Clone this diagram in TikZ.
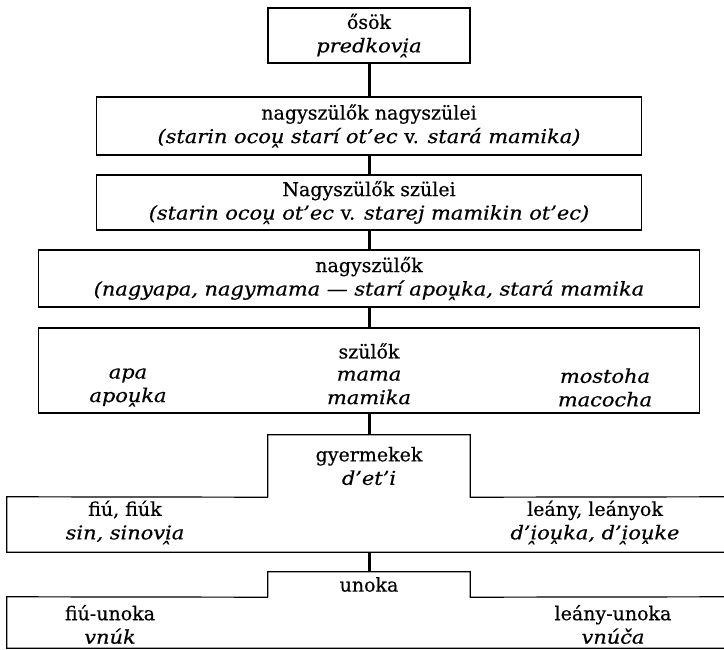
\documentclass[tikz,border=0pt]{standalone}
\usepackage{fontspec}
\setmainfont{DejaVu Serif}[UprightFeatures={FakeBold=0.5}, ItalicFeatures={FakeStretch=1.1, FakeBold=0.5}]
\newcommand\hb[1]{#1^^^^032d}
\tikzset{
  txt/.style={align=center, inner sep=0pt, font=\fontsize{19}{23.5}\selectfont},
  ital/.style={txt, font=\fontsize{19}{23.5}\selectfont\itshape},
  frame/.style={line width=1.2pt},
  box/.style={txt, draw, frame},
  bar/.style={line width=3pt}
}

\begin{document}
\begin{tikzpicture}[x=1pt, y=-1pt]
\useasboundingbox (0,0) rectangle (724,650);
% generations, top to bottom
\node [box, minimum width=202pt, minimum height=55pt] (b1) at (369,35.5) {ősök\\\textit{predkov\hb{i}a}};
\node [box, minimum width=545pt, minimum height=58pt] (b2) at (369,126) {nagyszülők nagyszülei\\\textit{(starin oco\hb{u} starí ot’ec \textup{v.} stará mamika)}};
\node [box, minimum width=545pt, minimum height=55pt] (b3) at (369,202.5) {Nagyszülők szülei\\\textit{(starin oco\hb{u} ot’ec \textup{v.} starej mamikin ot’ec)}};
\node [box, minimum width=661pt, minimum height=57pt] (b4) at (369,278.5) {nagyszülők\\\textit{(nagyapa, nagymama — starí apo\hb{u}ka, stará mamika}};
\node [box, minimum width=661pt, minimum height=85pt] (b5) at (369,370.5) {};
\node [txt] (b5t) at (369,351) {szülők};
\node [ital] (apa) at (128,387.5) {apa\\apo\hb{u}ka};
\node [ital] (mama) at (369,387.5) {mama\\mamika};
\node [ital] (mostoha) at (605,387.5) {mostoha\\macocha};
% children
\node [txt, minimum width=202pt, minimum height=62pt] (kids) at (369,466) {gyermekek\\\textit{d’et’i}};
\node [minimum width=724pt, minimum height=55pt, inner sep=0pt] (sons) at (369,524.5) {};
\node [txt] (son) at (125,522.5) {fiú, fiúk\\\textit{sin, sinov\hb{i}a}};
\node [txt] (dau) at (595,522.5) {leány, leányok\\\textit{d’\hb{i}o\hb{u}ka, d’\hb{i}o\hb{u}ke}};
\draw [frame] (kids.south west) -- (kids.north west) -- (kids.north east) -- (kids.south east) -- (sons.north east);
\draw [frame] (kids.south west) -- (sons.north west) -- (sons.south west) -- (sons.south east);
% grandchildren
\node [txt, minimum width=202pt, minimum height=25pt] (gk) at (369,584.5) {unoka};
\node [minimum width=724pt, minimum height=51pt, inner sep=0pt] (gkrow) at (369,622.5) {};
\node [txt] (gson) at (110,624.5) {fiú-unoka\\\textit{vnúk}};
\node [txt] (gdau) at (613,624.5) {leány-unoka\\\textit{vnúča}};
\draw [frame] (gk.south west) -- (gk.north west) -- (gk.north east) -- (gk.south east) -- (gkrow.north east);
\draw [frame] (gk.south west) -- (gkrow.north west) -- (gkrow.south west) -- (gkrow.south east);
% links
\foreach \a/\b in {b1/b2, b2/b3, b3/b4, b4/b5, b5/kids, sons/gk}
  \draw [bar] (\a.south) -- (\b.north);
\end{tikzpicture}
\end{document}
